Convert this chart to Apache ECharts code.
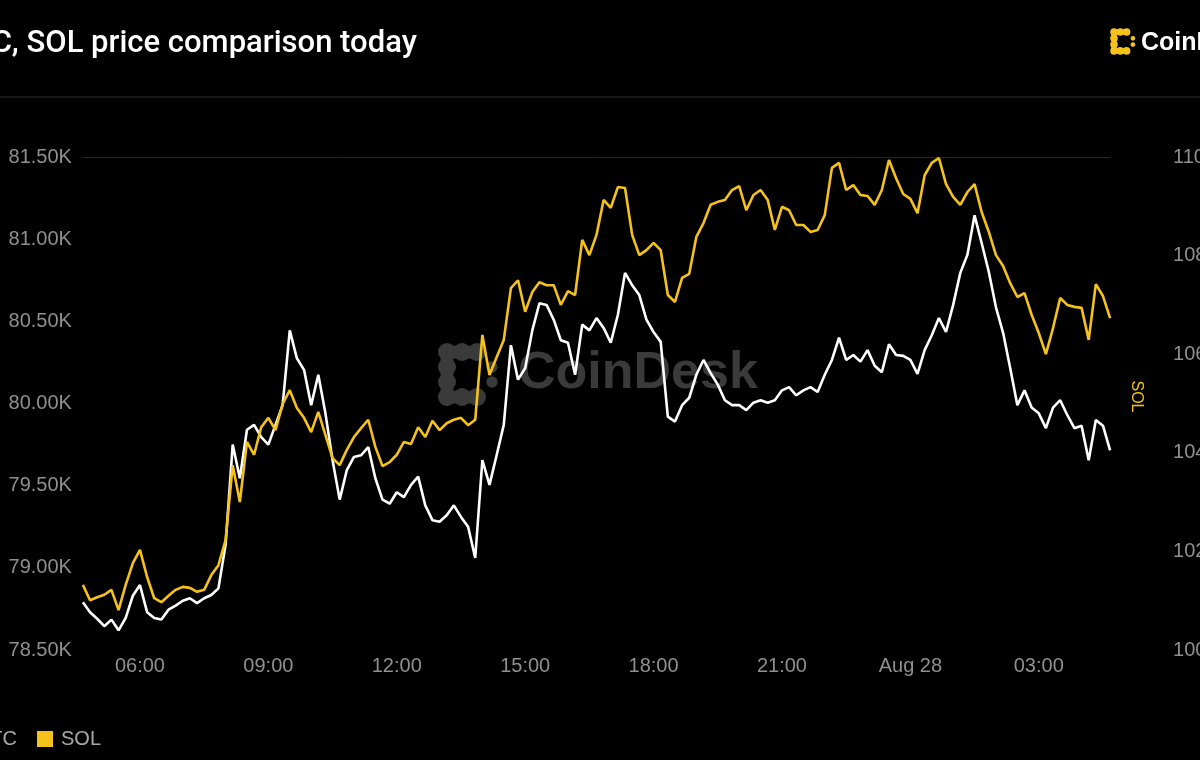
<!DOCTYPE html>
<html>
<head>
<meta charset="utf-8">
<script src="https://cdn.jsdelivr.net/npm/echarts@6/dist/echarts.min.js"></script>
<style>
html,body{margin:0;padding:0;background:#000;}
#chart{width:1200px;height:760px;}
</style>
</head>
<body>
<div id="chart"></div>
<script>
// ---- data ----
const startTime = '04:40';      // first sample (Aug 27)
const stepMinutes = 10;         // sampling step
const btcPrice = [
  78790, 78730, 78690, 78645, 78685, 78620, 78695, 78830, 78895, 78730,
  78695, 78685, 78745, 78770, 78800, 78815, 78785, 78815, 78835, 78875,
  79140, 79750, 79545, 79840, 79870, 79795, 79750, 79870, 79990, 80445,
  80275, 80205, 79990, 80175, 79940, 79655, 79415, 79595, 79675, 79685,
  79735, 79545, 79415, 79390, 79460, 79430, 79505, 79555, 79380, 79290,
  79280, 79320, 79380, 79310, 79250, 79060, 79655, 79505, 79685, 79870,
  80355, 80145, 80215, 80445, 80610, 80600, 80510, 80385, 80370, 80175,
  80480, 80445, 80520, 80460, 80370, 80540, 80795, 80720, 80660, 80510,
  80435, 80375, 79920, 79890, 79990, 80035, 80175, 80265, 80185, 80115,
  80020, 79990, 79990, 79960, 80005, 80020, 80005, 80020, 80080, 80100,
  80050, 80080, 80100, 80070, 80175, 80265, 80400, 80265, 80295, 80255,
  80325, 80230, 80190, 80360, 80295, 80290, 80265, 80180, 80325, 80415,
  80520, 80435, 80600, 80795, 80905, 81145, 80975, 80800, 80585, 80430,
  80215, 79990, 80080, 79975, 79940, 79850, 79975, 80020, 79930, 79850,
  79865, 79655, 79900, 79865, 79715
];
const solPrice = [
  101.32, 101.01, 101.07, 101.12, 101.22, 100.81, 101.32, 101.76, 102.03, 101.48,
  101.05, 100.97, 101.10, 101.22, 101.28, 101.26, 101.18, 101.22, 101.52, 101.72,
  102.23, 103.75, 103.00, 104.22, 103.96, 104.52, 104.71, 104.46, 104.99, 105.27,
  104.91, 104.71, 104.42, 104.83, 104.36, 103.89, 103.75, 104.06, 104.32, 104.50,
  104.67, 104.12, 103.73, 103.81, 103.96, 104.22, 104.18, 104.52, 104.32, 104.65,
  104.46, 104.60, 104.67, 104.71, 104.56, 104.67, 106.39, 105.58, 105.94, 106.29,
  107.34, 107.50, 106.86, 107.26, 107.46, 107.40, 107.40, 107.00, 107.28, 107.20,
  108.32, 108.01, 108.42, 109.13, 108.97, 109.39, 109.37, 108.42, 108.01, 108.11,
  108.26, 108.11, 107.20, 107.06, 107.55, 107.63, 108.38, 108.66, 109.03, 109.09,
  109.13, 109.33, 109.41, 108.92, 109.23, 109.33, 109.13, 108.52, 108.99, 108.92,
  108.62, 108.62, 108.48, 108.52, 108.82, 109.78, 109.88, 109.33, 109.43, 109.23,
  109.21, 109.03, 109.33, 109.94, 109.57, 109.25, 109.15, 108.86, 109.63, 109.88,
  109.98, 109.45, 109.19, 109.03, 109.29, 109.45, 108.88, 108.48, 108.01, 107.79,
  107.44, 107.16, 107.24, 106.80, 106.43, 106.00, 106.53, 107.14, 107.00, 106.96,
  106.94, 106.29, 107.42, 107.18, 106.73
];
const btcAxis = { min: 78500, max: 81500, interval: 500 };
const solAxis = { min: 100, max: 110, interval: 2 };
const dayBreakLabel = 'Aug 28';
const seriesNames = ['BTC', 'SOL'];

// ---- categories (time of day) ----
const pad = n => (n < 10 ? '0' : '') + n;
const [sh, sm] = startTime.split(':').map(Number);
const categories = btcPrice.map((_, i) => {
  const m = sh * 60 + sm + i * stepMinutes;
  return pad(Math.floor(m / 60) % 24) + ':' + pad(m % 60);
});

const FONT = "'Liberation Sans', Arial, sans-serif";
const YELLOW = '#f4c21b';
const GRAY = '#8f8f8f';

function logo(x, y, u, color, z) {
  const ch = [];
  ch.push({ type: 'polyline', z,
    shape: { points: [[2.1 * u, 0], [0, 0], [0, 3 * u], [2.1 * u, 3 * u]] },
    style: { stroke: color, lineWidth: 0.85 * u, lineCap: 'round', lineJoin: 'round', fill: null } });
  [[0,0],[1,0],[2,0],[0,1],[0,2],[0,3],[1,3],[2,3]].forEach(p => ch.push({
    type: 'circle', z, shape: { cx: p[0] * u, cy: p[1] * u, r: 0.6 * u }, style: { fill: color } }));
  [[3,1],[3,2]].forEach(p => ch.push({
    type: 'circle', z, shape: { cx: p[0] * u, cy: p[1] * u, r: 0.38 * u }, style: { fill: color } }));
  return { type: 'group', x, y, children: ch };
}

const chart = echarts.init(document.getElementById('chart'), null, { renderer: 'canvas' });
chart.setOption({
  backgroundColor: '#000',
  animation: false,
  textStyle: { fontFamily: FONT },
  title: {
    text: 'BTC, SOL price comparison today',
    left: -46, top: 29, padding: 0,
    textStyle: { color: '#fff', fontSize: 31, fontWeight: 500, fontFamily: "Roboto, 'Liberation Sans', Arial, sans-serif" }
  },
  legend: {
    data: seriesNames,
    left: -47, top: 729, padding: 0,
    icon: 'rect', itemWidth: 16, itemHeight: 16, itemGap: 20,
    textStyle: { color: '#a8a8a8', fontSize: 20, fontFamily: FONT, padding: [0, 0, 0, 3] }
  },
  grid: { left: 82.9, right: 89.9, top: 157, bottom: 110, containLabel: false, outerBoundsMode: 'none' },
  xAxis: [{
    type: 'category',
    data: categories,
    boundaryGap: false,
    axisLine: { show: false },
    axisTick: { show: false },
    splitLine: { show: false },
    axisLabel: {
      color: GRAY, fontSize: 20, margin: 6, fontFamily: FONT,
      interval: (idx, val) => val.endsWith(':00') && Number(val.slice(0, 2)) % 3 === 0,
      formatter: v => (v === '00:00' ? dayBreakLabel : v)
    }
  }, {
    type: 'category',
    data: categories,
    position: 'top',
    boundaryGap: false,
    axisLine: { show: true, lineStyle: { color: '#262626', width: 1 } },
    axisTick: { show: false },
    axisLabel: { show: false },
    splitLine: { show: false }
  }],
  yAxis: [{
    type: 'value',
    position: 'left',
    min: btcAxis.min, max: btcAxis.max, interval: btcAxis.interval,
    axisLine: { show: false }, axisTick: { show: false }, splitLine: { show: false },
    axisLabel: { color: GRAY, fontSize: 20, margin: 11, fontFamily: FONT,
      formatter: v => (v / 1000).toFixed(2) + 'K' }
  }, {
    type: 'value',
    position: 'right',
    min: solAxis.min, max: solAxis.max, interval: solAxis.interval,
    name: 'SOL', nameLocation: 'middle', nameGap: 18, nameRotate: -90, nameMoveOverlap: false,
    nameTextStyle: { color: YELLOW, fontSize: 16, fontFamily: FONT, padding: [0, 14, 0, 0] },
    axisLine: { show: false }, axisTick: { show: false }, splitLine: { show: false },
    axisLabel: { color: GRAY, fontSize: 20, margin: 63, fontFamily: FONT,
      formatter: v => v.toFixed(2) }
  }],
  series: [{
    name: seriesNames[0], type: 'line', xAxisIndex: 0, yAxisIndex: 0,
    data: btcPrice, showSymbol: false, symbol: 'none',
    itemStyle: { color: '#ffffff' },
    lineStyle: { color: '#ffffff', width: 2.6 }, z: 3
  }, {
    name: seriesNames[1], type: 'line', xAxisIndex: 0, yAxisIndex: 1,
    data: solPrice, showSymbol: false, symbol: 'none',
    itemStyle: { color: YELLOW },
    lineStyle: { color: YELLOW, width: 2.6 }, z: 4
  }],
  graphic: [
    { type: 'line', z: 0, shape: { x1: 0, y1: 97, x2: 1200, y2: 97 },
      style: { stroke: '#1f1f1f', lineWidth: 1.5 } },
    logo(1114, 32, 6.3, YELLOW, 1),
    { type: 'text', z: 1, x: 1141, y: 43,
      style: { text: 'CoinDesk', fill: '#fff', font: "bold 25px 'Liberation Sans', Arial, sans-serif", textVerticalAlign: 'middle', verticalAlign: 'middle' } },
    logo(447, 352, 15, '#3a3a3a', 0),
    { type: 'text', z: 0, x: 518, y: 374,
      style: { text: 'CoinDesk', fill: '#3a3a3a', font: "bold 52px 'Liberation Sans', Arial, sans-serif", textVerticalAlign: 'middle', verticalAlign: 'middle' } }
  ]
});
</script>
</body>
</html>
